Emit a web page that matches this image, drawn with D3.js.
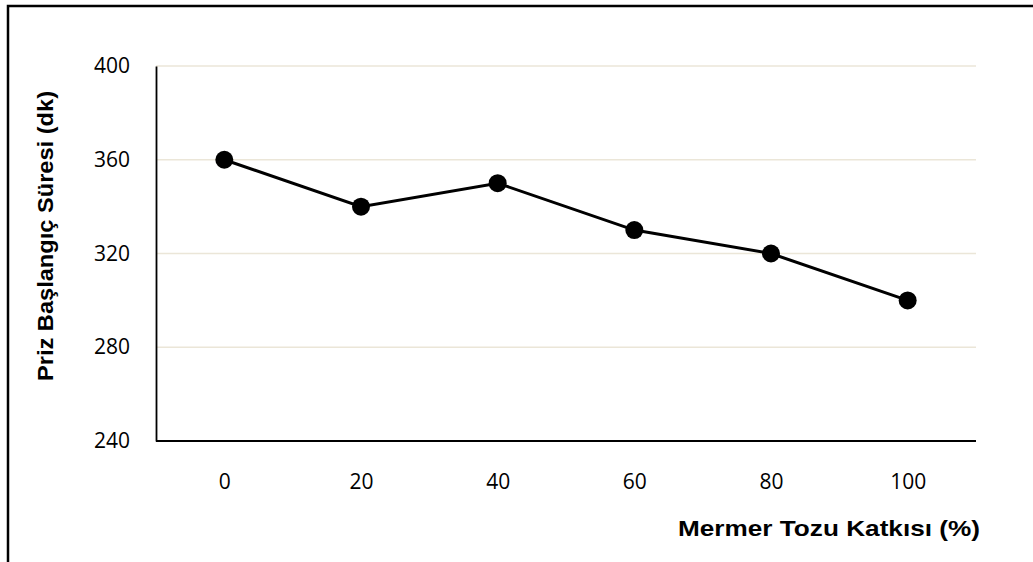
<!DOCTYPE html>
<html>
<head>
<meta charset="utf-8">
<script src="https://cdn.jsdelivr.net/npm/d3@7"></script>
<style>
  html, body { margin: 0; padding: 0; background: #fff; }
  svg { display: block; }
</style>
</head>
<body>
<svg id="chart" width="1033" height="562"></svg>
<script>
// Setting time vs. marble dust content
const categories = ["0", "20", "40", "60", "80", "100"];
const values = [360, 340, 350, 330, 320, 300];
const yTicks = [240, 280, 320, 360, 400];
const xTitle = "Mermer Tozu Katkısı  (%)";
const yTitle = "Priz Başlangıç Süresi (dk)";

const W = 1033, H = 562;
const plot = { left: 156, right: 976, top: 66, bottom: 441 };

const svg = d3.select("#chart");

// Outer frame: left and top edges only
svg.append("path")
  .attr("d", `M8,${H} L8,6 L${W},6`)
  .attr("fill", "none")
  .attr("stroke", "#000")
  .attr("stroke-width", 2.5);

const x = d3.scalePoint()
  .domain(categories)
  .range([plot.left, plot.right])
  .padding(0.5);

const y = d3.scaleLinear()
  .domain([240, 400])
  .range([plot.bottom, plot.top]);

// Horizontal gridlines
svg.append("g")
  .selectAll("line")
  .data(yTicks.filter(t => t > 240))
  .join("line")
  .attr("x1", plot.left)
  .attr("x2", plot.right)
  .attr("y1", d => y(d))
  .attr("y2", d => y(d))
  .attr("stroke", "#ebe6d8")
  .attr("stroke-width", 1.5);

// Y axis
const yAxis = svg.append("g")
  .attr("transform", `translate(${plot.left},0)`)
  .call(d3.axisLeft(y).tickValues(yTicks).tickSize(0).tickPadding(26));
yAxis.select(".domain").attr("stroke", "#000").attr("stroke-width", 1.8);
yAxis.selectAll("text")
  .attr("font-family", "'Open Sans', sans-serif")
  .attr("font-size", 21)
  .attr("fill", "#000");

// X axis
const xAxis = svg.append("g")
  .attr("transform", `translate(0,${plot.bottom})`)
  .call(d3.axisBottom(x).tickSize(0).tickPadding(33));
xAxis.select(".domain")
  .attr("d", `M${plot.left},0H${plot.right}`)
  .attr("stroke", "#000").attr("stroke-width", 1.8);
xAxis.selectAll("text")
  .attr("font-family", "'Open Sans', sans-serif")
  .attr("font-size", 21)
  .attr("fill", "#000");

// Series line
const line = d3.line()
  .x((d, i) => x(categories[i]))
  .y(d => y(d));

svg.append("path")
  .datum(values)
  .attr("d", line)
  .attr("fill", "none")
  .attr("stroke", "#000")
  .attr("stroke-width", 3);

svg.append("g")
  .selectAll("circle")
  .data(values)
  .join("circle")
  .attr("cx", (d, i) => x(categories[i]))
  .attr("cy", d => y(d))
  .attr("r", 9)
  .attr("fill", "#000");

// Axis titles
svg.append("text")
  .attr("x", 980)
  .attr("y", 536)
  .attr("text-anchor", "end")
  .attr("font-family", "'Liberation Sans', Arial, sans-serif")
  .attr("font-weight", "bold")
  .attr("font-size", 21.5)
  .attr("textLength", 302)
  .attr("lengthAdjust", "spacingAndGlyphs")
  .text(xTitle);

svg.append("text")
  .attr("transform", "translate(53,381) rotate(-90)")
  .attr("text-anchor", "start")
  .attr("font-family", "'Liberation Sans', Arial, sans-serif")
  .attr("font-weight", "bold")
  .attr("font-size", 21.5)
  .attr("textLength", 290)
  .attr("lengthAdjust", "spacingAndGlyphs")
  .text(yTitle);
</script>
</body>
</html>
